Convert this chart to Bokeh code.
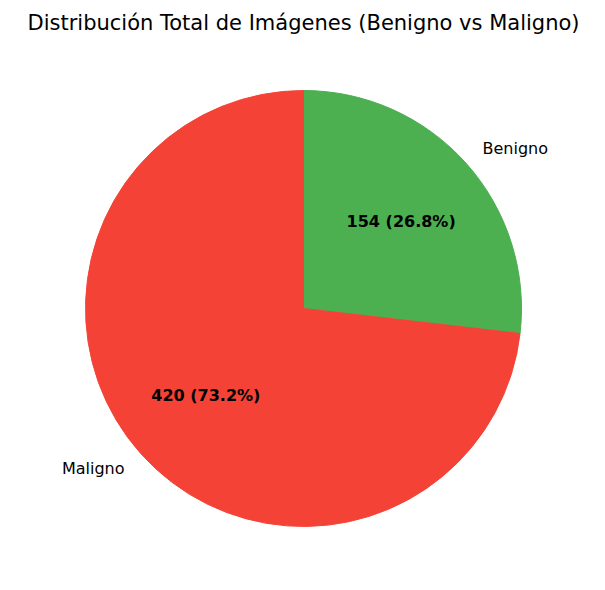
import numpy as np
from bokeh.plotting import figure
from bokeh.models import Range1d, ColumnDataSource
from bokeh.core.properties import value
from bokeh.embed import file_html
from bokeh.resources import INLINE

labels = ["Benigno", "Maligno"]
counts = [154, 420]
colors = ["#4CAF50", "#F44336"]

W, H = 589, 574
cx, cy, r = 303, 266, 218

total = sum(counts)
fracs = [c / total for c in counts]
starts, ends, mids = [], [], []
a = np.pi / 2
for f in fracs:
    starts.append(a)
    a2 = a - 2 * np.pi * f
    ends.append(a2)
    mids.append((a + a2) / 2)
    a = a2

src = ColumnDataSource(dict(start=starts, end=ends, color=colors))

p = figure(width=W, height=H, x_range=Range1d(0, W), y_range=Range1d(0, H),
           output_backend="svg", toolbar_location=None, min_border=0)
p.axis.visible = False
p.grid.visible = False
p.outline_line_color = None

p.wedge(x=cx, y=cy, radius=r, start_angle="start", end_angle="end",
        direction="clock", fill_color="color", line_color="color", source=src)

# outer labels
lx = [cx + 1.1 * r * np.cos(m) for m in mids]
ly = [cy + 1.1 * r * np.sin(m) for m in mids]
align = ["left" if x > cx else "right" for x in lx]
p.text(x=lx, y=ly, text=labels, text_align=align, text_baseline="middle",
       text_font=value("DejaVu Sans"), text_font_size="16px", text_color="black")

# percentage labels
px = [cx + 0.6 * r * np.cos(m) for m in mids]
py = [cy + 0.6 * r * np.sin(m) for m in mids]
pct = [f"{c} ({f*100:.1f}%)" for c, f in zip(counts, fracs)]
p.text(x=px, y=py, text=pct, text_align="center", text_baseline="middle",
       text_font=value("DejaVu Sans"), text_font_size="16px",
       text_font_style="bold", text_color="black")

p.text(x=[cx], y=[552], text=["Distribución Total de Imágenes (Benigno vs Maligno)"],
       text_align="center", text_baseline="middle",
       text_font=value("DejaVu Sans"), text_font_size="21px", text_color="black")

open("out.html", "w").write(file_html(p, INLINE))
